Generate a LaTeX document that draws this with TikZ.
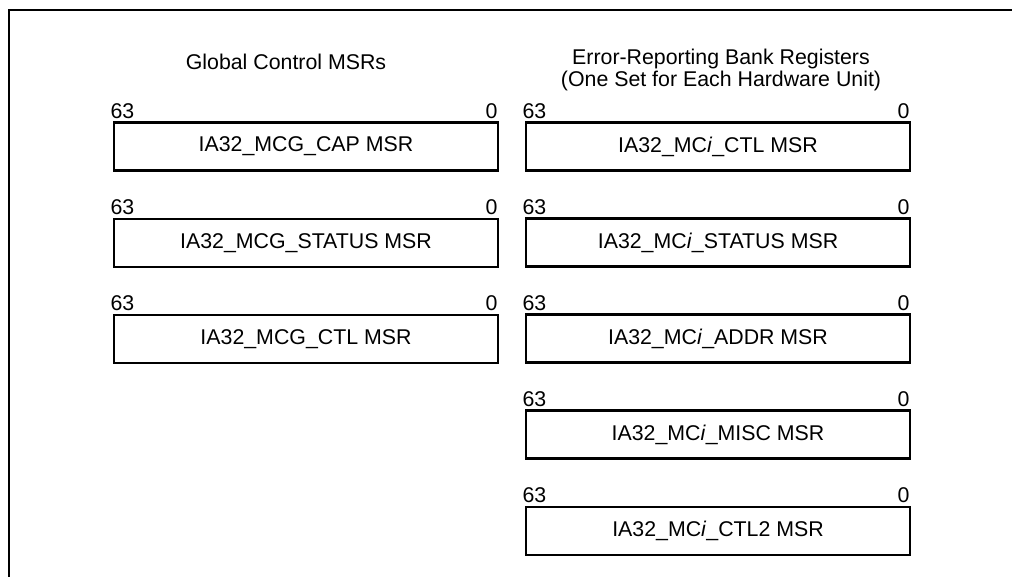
\documentclass[tikz,border=0pt]{standalone}
\usepackage{fontspec}
\setmainfont{Liberation Sans}
\usetikzlibrary{positioning}

\begin{document}
\begin{tikzpicture}[x=0.75pt, y=-0.75pt,
    reg/.style={draw, line width=1.6pt, minimum width=288pt, minimum height=36pt,
        inner sep=0pt, font=\fontsize{16}{19}\selectfont},
    bitnum/.style={inner sep=0pt, font=\fontsize{16}{19}\selectfont},
    heading/.style={align=center, inner sep=0pt, font=\fontsize{16}{14}\selectfont}]
        \useasboundingbox (0, 0) rectangle (1012, 577);
        \draw[line width=2pt] (1012, 10) -- (9, 10) -- (9, 577);

        % global control registers
        \node[heading] (globhead) at (286, 62) {Global Control MSRs};
        \node[reg] (mcgcap) at (306, 146.5) {IA32\_MCG\_CAP MSR};
        \node[reg] (mcgstatus) at (306, 243) {IA32\_MCG\_STATUS MSR};
        \node[reg] (mcgctl) at (306, 339) {IA32\_MCG\_CTL MSR};

        % error-reporting bank
        \node[heading] (bankhead) at (721, 70)
            {Error-Reporting Bank Registers\\(One Set for Each Hardware Unit)};
        \node[reg] (mcictl) at (718, 146.5) {IA32\_MC\textit{i}\_CTL MSR};
        \node[reg] (mcistatus) at (718, 242.5) {IA32\_MC\textit{i}\_STATUS MSR};
        \node[reg] (mciaddr) at (718, 338.5) {IA32\_MC\textit{i}\_ADDR MSR};
        \node[reg] (mcimisc) at (718, 434.5) {IA32\_MC\textit{i}\_MISC MSR};
        \node[reg] (mcictltwo) at (718, 531) {IA32\_MC\textit{i}\_CTL2 MSR};

        % bit numbers
        \foreach \r in {mcgcap, mcgstatus, mcgctl, mcictl, mcistatus, mciaddr, mcimisc, mcictltwo} {
            \node[bitnum, above right=2pt and -2pt of \r.north west] (\r hi) {63};
            \node[bitnum, above left=2pt and 1pt of \r.north east] (\r lo) {0};
        }
\end{tikzpicture}
\end{document}
